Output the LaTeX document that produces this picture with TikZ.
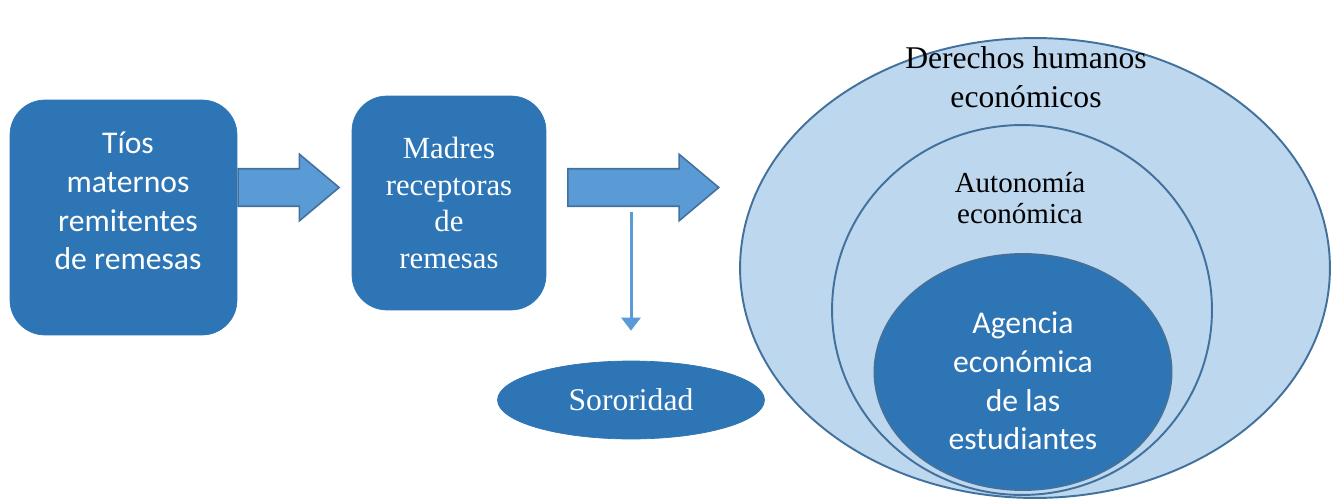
\documentclass[tikz,border=0pt]{standalone}
\usepackage{fontspec}
\setmainfont{Liberation Serif}
\newfontfamily\calibri{Carlito}
\usetikzlibrary{shapes.geometric,shapes.arrows,arrows.meta}

\definecolor{boxblue}{HTML}{2E75B6}
\definecolor{arrowblue}{HTML}{5B9BD5}
\definecolor{edgeblue}{HTML}{41719C}
\definecolor{paleblue}{HTML}{BDD7EE}

\tikzset{
  actor/.style={rectangle,rounded corners=0.7cm,fill=boxblue,draw=boxblue,
    text=white,align=center},
  blockarrow/.style={single arrow,fill=arrowblue,draw=edgeblue,line width=0.9pt,
    minimum width=0pt,inner ysep=0.36cm,single arrow head extend=0.29cm,
    single arrow tip angle=80,anchor=tail},
  ring/.style={ellipse,fill=paleblue,draw=edgeblue,line width=1.1pt},
  core/.style={ellipse,fill=boxblue,draw=edgeblue,line width=1.1pt},
  bigtxt/.style={align=center,font=\fontsize{18}{22}\selectfont},
}

\begin{document}
\begin{tikzpicture}[x=0.02cm,y=-0.02cm]
  \useasboundingbox (0,0) rectangle (1331,500);

  \begin{scope}[every node/.style={actor}]
    \node[minimum width=4.54cm,minimum height=4.7cm] (tios) at (123.5,217.5) {};
    \node[minimum width=3.88cm,minimum height=4.28cm,font=\fontsize{17.5}{21}\selectfont]
      (madres) at (449,203) {Madres\\receptoras\\de\\remesas};
  \end{scope}
  \node[bigtxt,text=white,font=\calibri\fontsize{18}{22}\selectfont] (tiostxt) at (128,201)
    {Tíos\\maternos\\remitentes\\de remesas};

  \node[blockarrow,minimum height=2.02cm] (flecha1) at (tios.east |- 0,187.5) {};
  \node[blockarrow,minimum height=3.02cm] (flecha2) at (567,187.5) {};

  \node[ellipse,fill=boxblue,draw=boxblue,minimum width=5.34cm,minimum height=1.56cm,
    text=white,font=\fontsize{18}{22}\selectfont] (sororidad) at (631,400) {Sororidad};
  \coordinate (rama) at (631,212);
  \draw[arrowblue,line width=1.7pt,-{Triangle[length=0.26cm,width=0.38cm]}]
    (rama) -- ([yshift=0.6cm]sororidad.north);

  \node[ring,minimum width=11.8cm,minimum height=9.2cm] (derechos) at (1035,268) {};
  \node[ring,minimum width=7.6cm,minimum height=7.4cm] (autonomia) at (1022,310) {};
  \node[core,minimum width=5.94cm,minimum height=4.72cm] (agencia) at (1023,372) {};

  \node[bigtxt] (derechostxt) at (1026,77) {Derechos humanos\\económicos};
  \node[align=center,font=\fontsize{16.5}{18}\selectfont] (autonomiatxt) at (1020,198)
    {Autonomía\\económica};
  \node[bigtxt,text=white,font=\calibri\fontsize{18}{22}\selectfont] (agenciatxt) at (1023,381)
    {Agencia\\económica\\de las\\estudiantes};
\end{tikzpicture}
\end{document}
